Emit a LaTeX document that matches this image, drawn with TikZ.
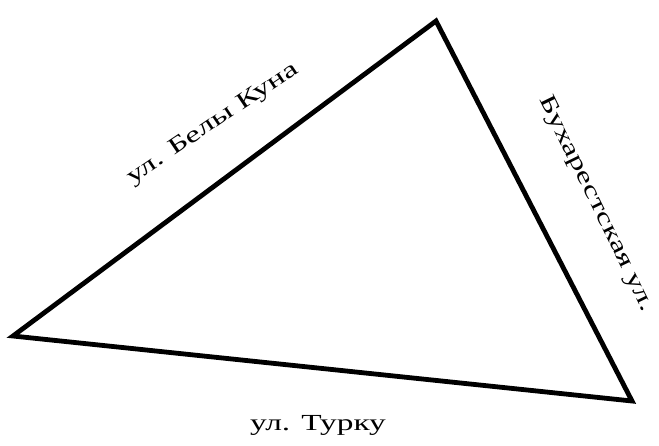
\documentclass[tikz,border=0pt]{standalone}
\usepackage{fontspec}
\setmainfont{Liberation Serif}
\tikzset{
  street/.style = {line width=4.8pt, line join=miter},
  streetname/.style = {font=\fontsize{23}{27}\selectfont, inner sep=0pt},
}
\begin{document}
\begin{tikzpicture}[x=1pt, y=-1pt]
\useasboundingbox (0,0) rectangle (659,445);
% ---------------- corners ----------------
\coordinate (west)  at (13,336);
\coordinate (north) at (436,21);
\coordinate (east)  at (632,401);
\draw[street] (west) -- (north) -- (east) -- cycle;
% ---------------- street names ----------------
\node[streetname, rotate=34, xscale=1.45] (bela) at (213,124) {ул. Белы Куна};
\node[streetname, rotate=-64, xscale=1.45] (buch) at (596,204) {Бухарестская ул.};
\node[streetname, xscale=1.45] (turku) at (318,425) {ул. Турку};
\end{tikzpicture}
\end{document}
